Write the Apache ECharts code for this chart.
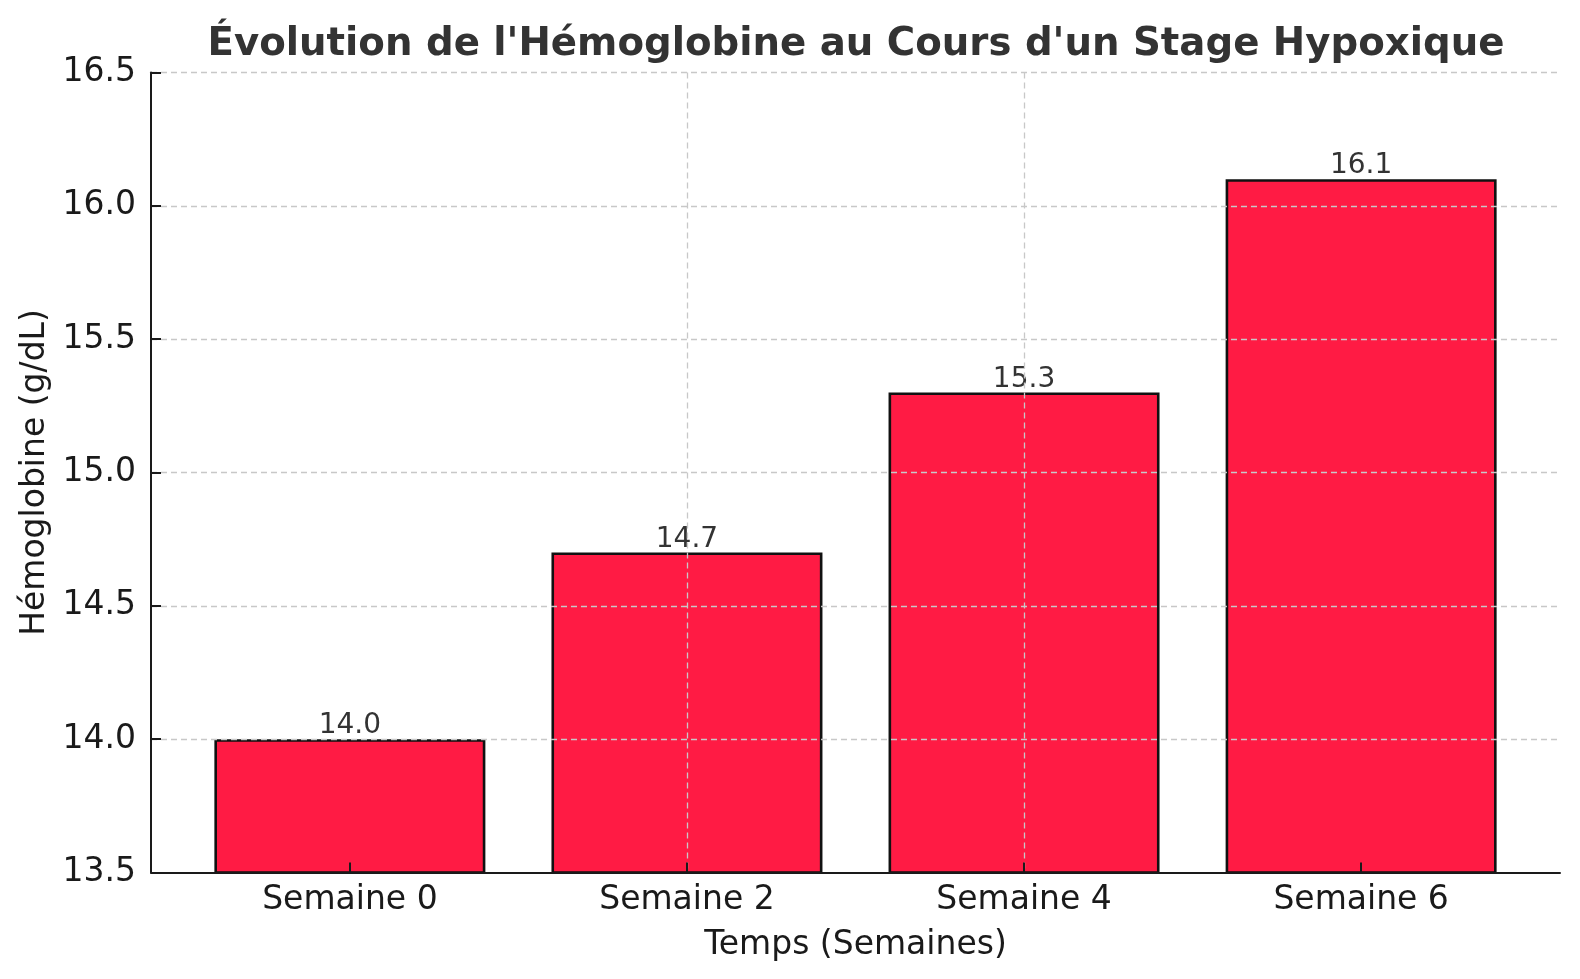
<!DOCTYPE html>
<html>
<head>
<meta charset="utf-8">
<script src="https://cdn.jsdelivr.net/npm/echarts@6/dist/echarts.min.js"></script>
<style>
html,body{margin:0;padding:0;background:#fff;}
#chart{width:1580px;height:979px;}
</style>
</head>
<body>
<div id="chart"></div>
<script>
const categories = ["Semaine 0", "Semaine 2", "Semaine 4", "Semaine 6"];
const hemoglobin = [14.0, 14.7, 15.3, 16.1];
const yTicks = [13.5, 14.0, 14.5, 15.0, 15.5, 16.0, 16.5];
const titleText = "Évolution de l'Hémoglobine au Cours d'un Stage Hypoxique";
const xTitle = "Temps (Semaines)";
const yTitle = "Hémoglobine (g/dL)";

const font = "'DejaVu Sans', Verdana, sans-serif";
const positions = categories.map((c, i) => i);
const chart = echarts.init(document.getElementById('chart'), null, {renderer: 'canvas'});
chart.setOption({
  animation: false,
  backgroundColor: '#ffffff',
  title: {
    text: titleText,
    left: 851, top: 20, textAlign: 'center',
    textStyle: {fontFamily: font, fontSize: 38.7, fontWeight: 'bold', color: '#333333'}
  },
  grid: {left: 151, right: 20, top: 72.5, bottom: 106.5, containLabel: false},
  xAxis: {
    type: 'value',
    min: -0.59, max: 3.59, interval: 1,
    z: 3,
    name: xTitle, nameLocation: 'middle', nameGap: 56,
    nameTextStyle: {fontFamily: font, fontSize: 33, color: '#1a1a1a'},
    axisLine: {show: true, onZero: false, lineStyle: {color: '#1a1a1a', width: 2}},
    axisTick: {show: true, inside: true, length: 10, customValues: positions, lineStyle: {color: '#1a1a1a', width: 2}},
    axisLabel: {
      customValues: positions, margin: 11,
      fontFamily: font, fontSize: 33, color: '#1a1a1a',
      formatter: v => { const i = Math.round(v); return Math.abs(v - i) < 1e-6 && categories[i] !== undefined ? categories[i] : ''; }
    },
    splitLine: {show: true, showMinLine: false, showMaxLine: false, lineStyle: {color: '#c8c8c8', width: 1.3, type: [6, 4]}}
  },
  yAxis: {
    type: 'value',
    min: yTicks[0], max: yTicks[yTicks.length - 1], interval: 0.5,
    z: 3,
    name: yTitle, nameLocation: 'middle', nameGap: 96, nameRotate: 90,
    nameTextStyle: {fontFamily: font, fontSize: 33, color: '#1a1a1a'},
    axisLine: {show: true, onZero: false, lineStyle: {color: '#1a1a1a', width: 2}},
    axisTick: {show: true, inside: true, length: 10, lineStyle: {color: '#1a1a1a', width: 2}},
    axisLabel: {margin: 15, fontFamily: font, fontSize: 33, color: '#1a1a1a', formatter: v => v.toFixed(1)},
    splitLine: {show: true, showMinLine: false, lineStyle: {color: '#c8c8c8', width: 1.3, type: [6, 4]}}
  },
  series: [{
    type: 'bar',
    data: hemoglobin.map((v, i) => [positions[i], v]),
    barWidth: 271,
    itemStyle: {color: '#ff1b44', borderColor: '#111111', borderWidth: 2.6},
    label: {
      show: true, position: 'top', distance: 2, offset: [0, 3],
      fontFamily: font, fontSize: 28, color: '#333333',
      formatter: p => p.value[1].toFixed(1)
    }
  }]
});
</script>
</body>
</html>
